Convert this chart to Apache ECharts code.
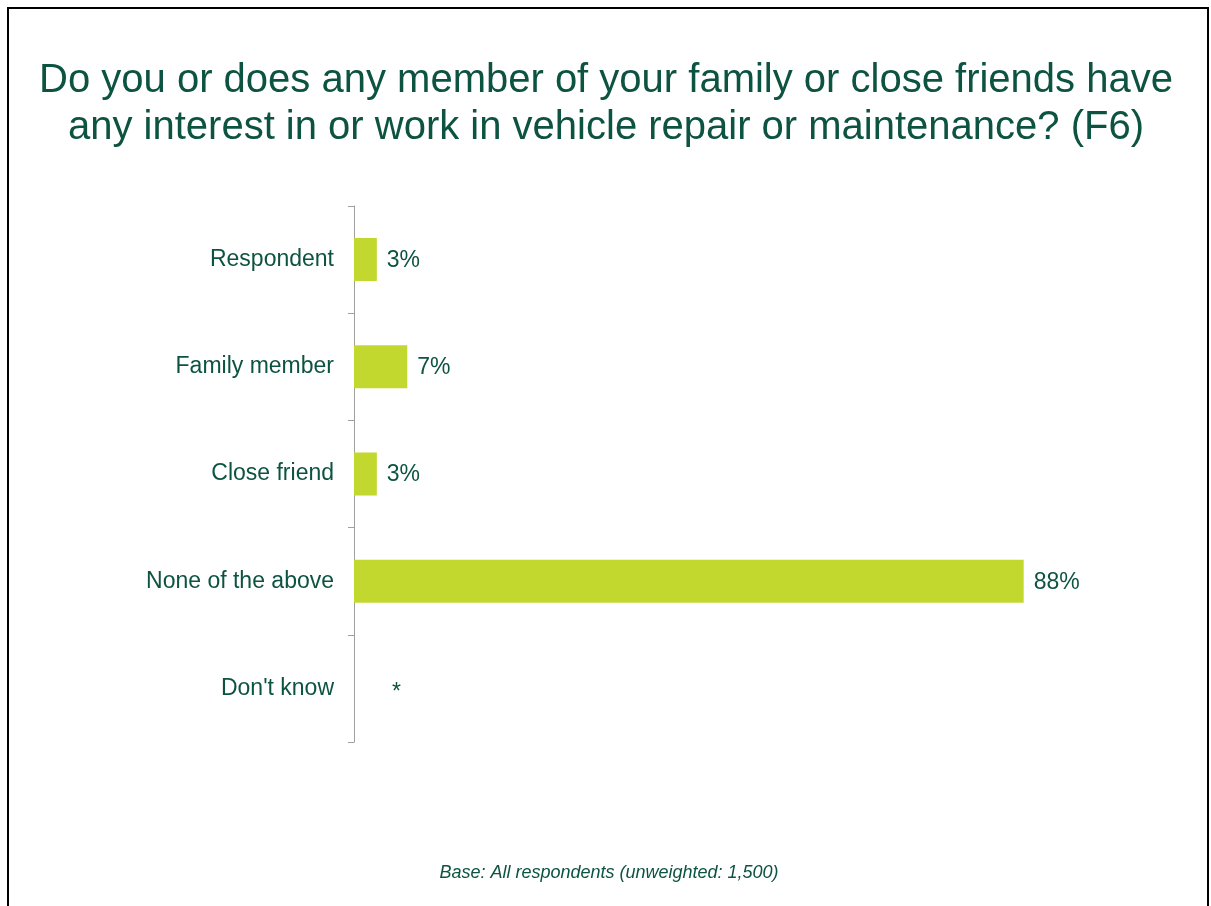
<!DOCTYPE html>
<html>
<head>
<meta charset="utf-8">
<style>
  html, body { margin: 0; padding: 0; background: #ffffff; }
  #chart { width: 1211px; height: 906px; }
</style>
<script src="https://cdn.jsdelivr.net/npm/echarts@6/dist/echarts.min.js"></script>
</head>
<body>
<div id="chart"></div>
<script>
// Survey answers, top to bottom
const categories = ['Respondent', 'Family member', 'Close friend', 'None of the above', "Don't know"];
// Share of respondents (%); "Don't know" is below 0.5% and shown as "*"
const values = [3, 7, 3, 88, 0];
const valueLabels = ['3%', '7%', '3%', '88%', '*'];

const titleText = 'Do you or does any member of your family or close friends have\nany interest in or work in vehicle repair or maintenance? (F6)';
const baseNote = 'Base: All respondents (unweighted: 1,500)';

const textColor = '#0D5341';
const barColor = '#C3D82F';
const fontFamily = 'Liberation Sans, Arial, sans-serif';

const chart = echarts.init(document.getElementById('chart'));

// Category axis draws bottom-up, so reverse to list answers top to bottom
const cats = categories.slice().reverse();
const vals = values.slice().reverse();
const labs = valueLabels.slice().reverse();

chart.setOption({
  backgroundColor: '#ffffff',
  animation: false,
  grid: { left: 354, right: 96, top: 206, bottom: 164, containLabel: false },
  xAxis: { type: 'value', min: 0, max: 100, show: false },
  yAxis: {
    type: 'category',
    data: cats,
    axisLine: { show: true, lineStyle: { color: '#A0A0A0', width: 1 } },
    axisTick: { show: true, length: 6, lineStyle: { color: '#A0A0A0' } },
    axisLabel: {
      margin: 20,
      padding: [3, 0, 0, 0],
      fontFamily: fontFamily,
      fontSize: 23,
      color: textColor
    },
    splitLine: { show: false }
  },
  series: [{
    type: 'bar',
    data: vals.map((v, i) => {
      const item = { value: v };
      if (labs[i] === '*') {
        item.label = { offset: [28, 4] };
      }
      return item;
    }),
    barWidth: 43,
    itemStyle: { color: barColor },
    label: {
      show: true,
      position: 'right',
      distance: 10,
      offset: [0, 1],
      fontFamily: fontFamily,
      fontSize: 23,
      color: textColor,
      formatter: p => labs[p.dataIndex]
    }
  }],
  graphic: [
    {
      type: 'rect',
      shape: { x: 8, y: 8, width: 1200, height: 920 },
      style: { fill: 'none', stroke: '#000000', lineWidth: 2 },
      silent: true
    },
    {
      type: 'text',
      silent: true,
      style: {
        text: titleText,
        x: 606,
        y: 57,
        textAlign: 'center',
        textVerticalAlign: 'top',
        fontFamily: fontFamily,
        fontSize: 40,
        lineHeight: 47,
        fill: textColor
      }
    },
    {
      type: 'text',
      silent: true,
      style: {
        text: baseNote,
        x: 609,
        y: 873,
        textAlign: 'center',
        textVerticalAlign: 'middle',
        fontFamily: fontFamily,
        fontSize: 18,
        fontStyle: 'italic',
        fill: textColor
      }
    }
  ]
});
</script>
</body>
</html>
